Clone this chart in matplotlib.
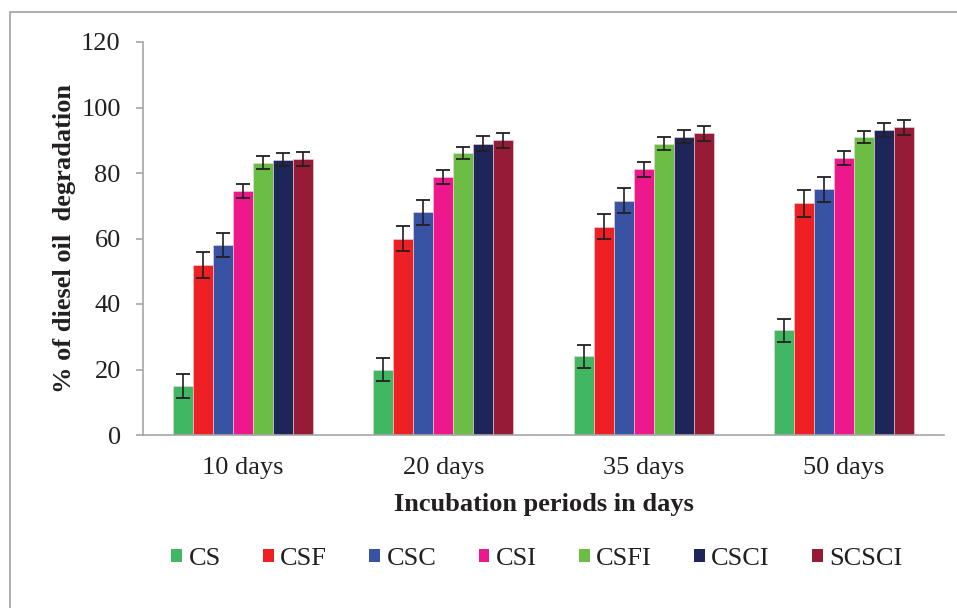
import numpy as np
import matplotlib
matplotlib.use('Agg')
import matplotlib.pyplot as plt
from matplotlib.patches import Rectangle, Patch

plt.rcParams['font.family'] = ['Liberation Serif', 'DejaVu Serif']

periods = ['10 days', '20 days', '35 days', '50 days']
treatments = ['CS', 'CSF', 'CSC', 'CSI', 'CSFI', 'CSCI', 'SCSCI']

cs = [15, 20, 24, 32]
csf = [52, 60, 63.6, 70.7]
csc = [58, 68, 71.5, 75]
csi = [74.5, 78.8, 81.1, 84.5]
csfi = [83.1, 86.1, 89, 91]
csci = [84, 89, 91.1, 93.1]
scsci = [84.2, 90, 92.1, 94]

cs_err = [3.6, 3.5, 3.6, 3.5]
csf_err = [4.0, 3.9, 3.9, 4.0]
csc_err = [3.7, 3.8, 3.8, 3.8]
csi_err = [2.2, 2.2, 2.2, 2.2]
csfi_err = [2.0, 1.9, 2.0, 1.9]
csci_err = [2.0, 2.2, 2.0, 2.1]
scsci_err = [2.1, 2.3, 2.3, 2.3]

values = [cs, csf, csc, csi, csfi, csci, scsci]
errors = [cs_err, csf_err, csc_err, csi_err, csfi_err, csci_err, scsci_err]
colors = ['#41b763', '#ee2024', '#3953a4', '#ec188c', '#6cbd45', '#1e2559', '#961b36']

W, H = 957, 608
fig = plt.figure(figsize=(W / 100, H / 100), dpi=100)
ax = fig.add_axes([143 / W, (H - 435) / H, (944 - 143) / W, (435 - 42) / H])

# outer grey frame (like the chart area border in the original)
fig.patches.append(Rectangle((10 / W, -0.1), 1.2, (H - 12) / H + 0.1,
                             transform=fig.transFigure, fill=False,
                             edgecolor='#a0a0a0', linewidth=1.2))

x = np.arange(len(periods))
bw = 0.1
for i in range(len(treatments)):
    pos = x - 0.3 + i * bw
    ax.bar(pos, values[i], width=bw, color=colors[i], edgecolor='#f4d6dc',
           linewidth=0.4, zorder=2)
    ax.errorbar(pos, values[i], yerr=errors[i], fmt='none', ecolor='#231f20',
                elinewidth=1.2, capsize=5, capthick=1.3, zorder=3)

ax.set_xlim(-0.5, 3.5)
ax.set_ylim(0, 120)
ax.set_yticks(np.arange(0, 121, 20))
ax.set_xticks(x)
ax.set_xticklabels(periods)

for s in ['top', 'right']:
    ax.spines[s].set_visible(False)
for s in ['left', 'bottom']:
    ax.spines[s].set_color('#a6a6a6')
    ax.spines[s].set_linewidth(1.2)

ax.tick_params(axis='y', length=5, width=1.2, color='#a6a6a6', pad=11,
               labelsize=19, labelcolor='#231f20')
ax.tick_params(axis='x', length=0, pad=16, labelsize=19, labelcolor='#231f20')

ax.set_ylabel('% of diesel oil  degradation', fontsize=19, fontweight='bold',
              color='#231f20', labelpad=4)
ax.set_xlabel('Incubation periods in days', fontsize=19, fontweight='bold',
              color='#231f20', labelpad=10)

handles = [Patch(facecolor=c, edgecolor='none') for c in colors]
fig.legend(handles, treatments, loc='center', bbox_to_anchor=(537 / W, (H - 559) / H),
           ncol=7, frameon=False, fontsize=19, handlelength=0.4, handleheight=0.4,
           handletextpad=0.25, columnspacing=1.6, labelcolor='#231f20')

fig.savefig('out.png', dpi=100)
